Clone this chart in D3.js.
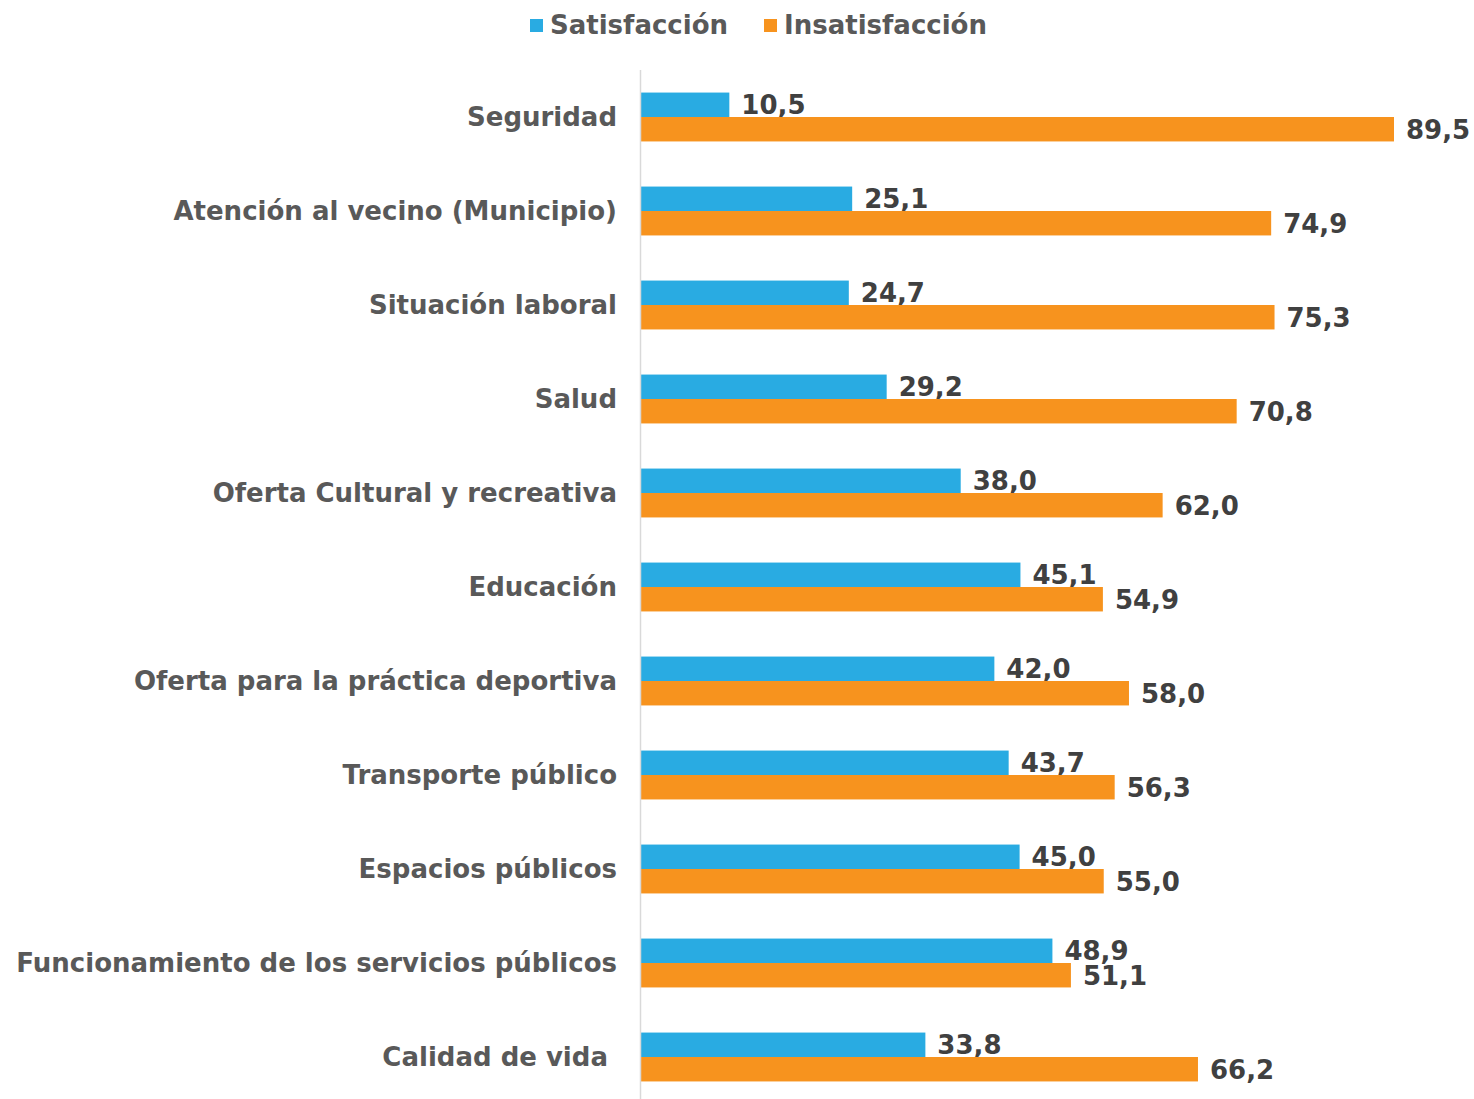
<!DOCTYPE html>
<html><head><meta charset="utf-8">
<script src="https://d3js.org/d3.v7.min.js"></script>
<style>body{margin:0;background:#fff;}</style>
</head><body>
<script>
const categories = ["Seguridad","Atención al vecino (Municipio)","Situación laboral","Salud","Oferta Cultural y recreativa","Educación","Oferta para la práctica deportiva","Transporte público","Espacios públicos","Funcionamiento de los servicios públicos","Calidad de vida "];
const satisfaccion = [10.5,25.1,24.7,29.2,38.0,45.1,42.0,43.7,45.0,48.9,33.8];
const insatisfaccion = [89.5,74.9,75.3,70.8,62.0,54.9,58.0,56.3,55.0,51.1,66.2];
const seriesNames = ["Satisfacción","Insatisfacción"];
const colors = ["#29ABE2","#F7931E"];

const W=1474,H=1099;
const svg=d3.select("body").append("svg").attr("width",W).attr("height",H);
const font="'DejaVu Sans', sans-serif";
const x=d3.scaleLinear().domain([0,89.5]).range([641,1394]);
const y=d3.scaleBand().domain(categories).range([70,1104]).paddingInner(0.48).paddingOuter(0.24);
const sub=d3.scaleBand().domain([0,1]).range([0,y.bandwidth()]);
const fmt=v=>d3.format(".1f")(v).replace(".",",");

const data=[satisfaccion,insatisfaccion];
data.forEach((arr,si)=>{
  const g=svg.append("g");
  g.selectAll("rect").data(arr).join("rect")
    .attr("x",x(0)).attr("y",(d,i)=>y(categories[i])+sub(si))
    .attr("width",d=>x(d)-x(0)).attr("height",sub.bandwidth())
    .attr("fill",colors[si]);
  g.selectAll("text").data(arr).join("text")
    .attr("x",d=>x(d)+12).attr("y",(d,i)=>y(categories[i])+sub(si)+sub.bandwidth()/2)
    .attr("dy","0.36em").attr("font-family",font).attr("font-weight",700)
    .attr("font-size",26).attr("fill","#404040").text(d=>fmt(d));
});
// axis line
svg.append("line").attr("x1",640.5).attr("x2",640.5).attr("y1",70).attr("y2",H).attr("stroke","#d9d9d9").attr("stroke-width",1.5);
// category labels
svg.append("g").selectAll("text").data(categories).join("text")
  .attr("x",617).attr("y",d=>y(d)+y.bandwidth()/2).attr("dy","0.36em")
  .attr("text-anchor","end").attr("font-family",font).attr("font-weight",700)
  .attr("font-size",26).attr("fill","#595959").attr("xml:space","preserve").text(d=>d);
// legend
const leg=[{x:530},{x:764}];
seriesNames.forEach((n,i)=>{
  svg.append("rect").attr("x",leg[i].x).attr("y",19).attr("width",13).attr("height",13).attr("fill",colors[i]);
  svg.append("text").attr("x",leg[i].x+20).attr("y",25).attr("dy","0.36em")
    .attr("font-family",font).attr("font-weight",700).attr("font-size",26).attr("fill","#595959").text(n);
});
</script>
</body></html>
